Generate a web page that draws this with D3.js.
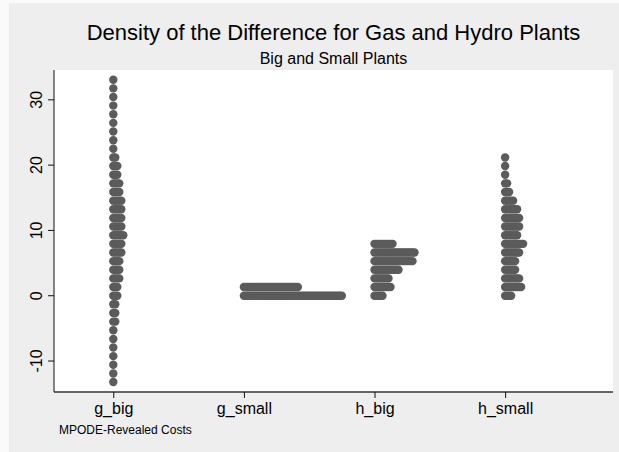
<!DOCTYPE html>
<html>
<head>
<meta charset="utf-8">
<script src="https://cdn.jsdelivr.net/npm/d3@7"></script>
<style>
  body { margin: 0; background: #fafafa; }
  svg { display: block; font-family: "Liberation Sans", Arial, sans-serif; }
</style>
</head>
<body>
<div id="vis"></div>
<script>
// variables on the x axis (dot columns)
var groups = ["g_big", "g_small", "h_big", "h_small"];

// midpoints of the 36 value bins shared by all columns
var binValues = [-13.30, -11.98, -10.65, -9.33, -8.01, -6.69, -5.36, -4.04, -2.72, -1.39,
                 -0.07, 1.25, 2.58, 3.90, 5.22, 6.55, 7.87, 9.19, 10.52, 11.84,
                 13.16, 14.48, 15.81, 17.13, 18.45, 19.78, 21.10, 22.42, 23.74, 25.07,
                 26.39, 27.71, 29.04, 30.36, 31.68, 33.00];

// number of plants falling in each bin (bottom bin first)
var gBigCounts   = [1,1,1,1,1,1,1,2,2,2, 3,3,4,4,4,5,5,6,5,5, 5,5,4,4,3,3,2,1,1,1, 1,1,1,1,1,1];
var gSmallCounts = [0,0,0,0,0,0,0,0,0,0, 50,28,0,0,0,0,0,0,0,0, 0,0,0,0,0,0,0,0,0,0, 0,0,0,0,0,0];
var hBigCounts   = [0,0,0,0,0,0,0,0,0,0, 5,9,8,13,20,21,10,0,0,0, 0,0,0,0,0,0,0,0,0,0, 0,0,0,0,0,0];
var hSmallCounts = [0,0,0,0,0,0,0,0,0,0, 4,9,8,6,6,8,10,7,8,8, 7,5,3,2,1,1,1,0,0,0, 0,0,0,0,0,0];

var yTicks = [-10, 0, 10, 20, 30];

var titleText = "Density of the Difference for Gas and Hydro Plants";
var subtitleText = "Big and Small Plants";
var noteText = "MPODE-Revealed Costs";

var cfg = {
  w: 619,
  h: 452,
  plot: {left: 54, right: 613, top: 70, bottom: 392},
  dotR: 4.2,
  dotStep: 0.0153,        // horizontal offset between stacked dots, in x units
  dotColor: "#5b5b5b",
  regionColor: "#eeeeee"
};

var series = [gBigCounts, gSmallCounts, hBigCounts, hSmallCounts];

var svg = d3.select("#vis").append("svg")
  .attr("width", cfg.w)
  .attr("height", cfg.h);

// graph region
svg.append("rect")
  .attr("x", 9).attr("y", 3)
  .attr("width", cfg.w - 9).attr("height", cfg.h - 3)
  .attr("fill", cfg.regionColor);

// plot region
svg.append("rect")
  .attr("x", cfg.plot.left).attr("y", cfg.plot.top)
  .attr("width", cfg.plot.right - cfg.plot.left)
  .attr("height", cfg.plot.bottom - cfg.plot.top)
  .attr("fill", "#fff");

var x = d3.scaleLinear()
  .domain([0.546, 4.826])
  .range([cfg.plot.left, cfg.plot.right]);

var y = d3.scaleLinear()
  .domain([-14.82, 34.49])
  .range([cfg.plot.bottom, cfg.plot.top]);

// dots: one per observation, stacked to the right of the column position
var dots = [];
series.forEach(function(counts, gi) {
  counts.forEach(function(c, bi) {
    for (var j = 0; j < c; j++) {
      dots.push({pos: gi + 1 + j * cfg.dotStep, value: binValues[bi]});
    }
  });
});

svg.append("g").attr("class", "dots")
  .selectAll("circle")
  .data(dots)
  .enter().append("circle")
  .attr("cx", function(d) { return x(d.pos); })
  .attr("cy", function(d) { return y(d.value); })
  .attr("r", cfg.dotR)
  .attr("fill", cfg.dotColor);

// y axis
var yAxis = svg.append("g")
  .attr("transform", "translate(" + cfg.plot.left + ",0)")
  .call(d3.axisLeft(y).tickValues(yTicks).tickSize(6).tickSizeOuter(0)
    .tickFormat(function(d) { return String(d); }));
yAxis.select(".domain").attr("stroke", "#111").attr("d", "M0," + cfg.plot.top + "V" + cfg.plot.bottom);
yAxis.selectAll(".tick line").attr("stroke", "#111");
yAxis.selectAll(".tick text")
  .attr("x", 0).attr("dy", 0)
  .attr("transform", "translate(-12,0) rotate(-90)")
  .attr("text-anchor", "middle")
  .style("font-size", "16px")
  .attr("fill", "#000");

// x axis
var xAxis = svg.append("g")
  .attr("transform", "translate(0," + cfg.plot.bottom + ")")
  .call(d3.axisBottom(x).tickValues([1, 2, 3, 4]).tickSize(6).tickSizeOuter(0)
    .tickFormat(function(d) { return groups[d - 1]; }));
xAxis.select(".domain").attr("stroke", "#333").attr("stroke-width", 1.5)
  .attr("d", "M" + cfg.plot.left + ",0H" + cfg.plot.right);
xAxis.selectAll(".tick line").attr("stroke", "#111");
xAxis.selectAll(".tick text")
  .attr("y", 11).attr("dy", "0.71em")
  .style("font-size", "16px")
  .attr("fill", "#000");

// titles
var cx = (cfg.plot.left + cfg.plot.right) / 2;
svg.append("text")
  .attr("x", cx).attr("y", 40)
  .attr("text-anchor", "middle")
  .style("font-size", "22px")
  .text(titleText);
svg.append("text")
  .attr("x", cx).attr("y", 64)
  .attr("text-anchor", "middle")
  .style("font-size", "16px")
  .text(subtitleText);

// note
svg.append("text")
  .attr("x", 59).attr("y", 434)
  .style("font-size", "12px")
  .text(noteText);
</script>
</body>
</html>
